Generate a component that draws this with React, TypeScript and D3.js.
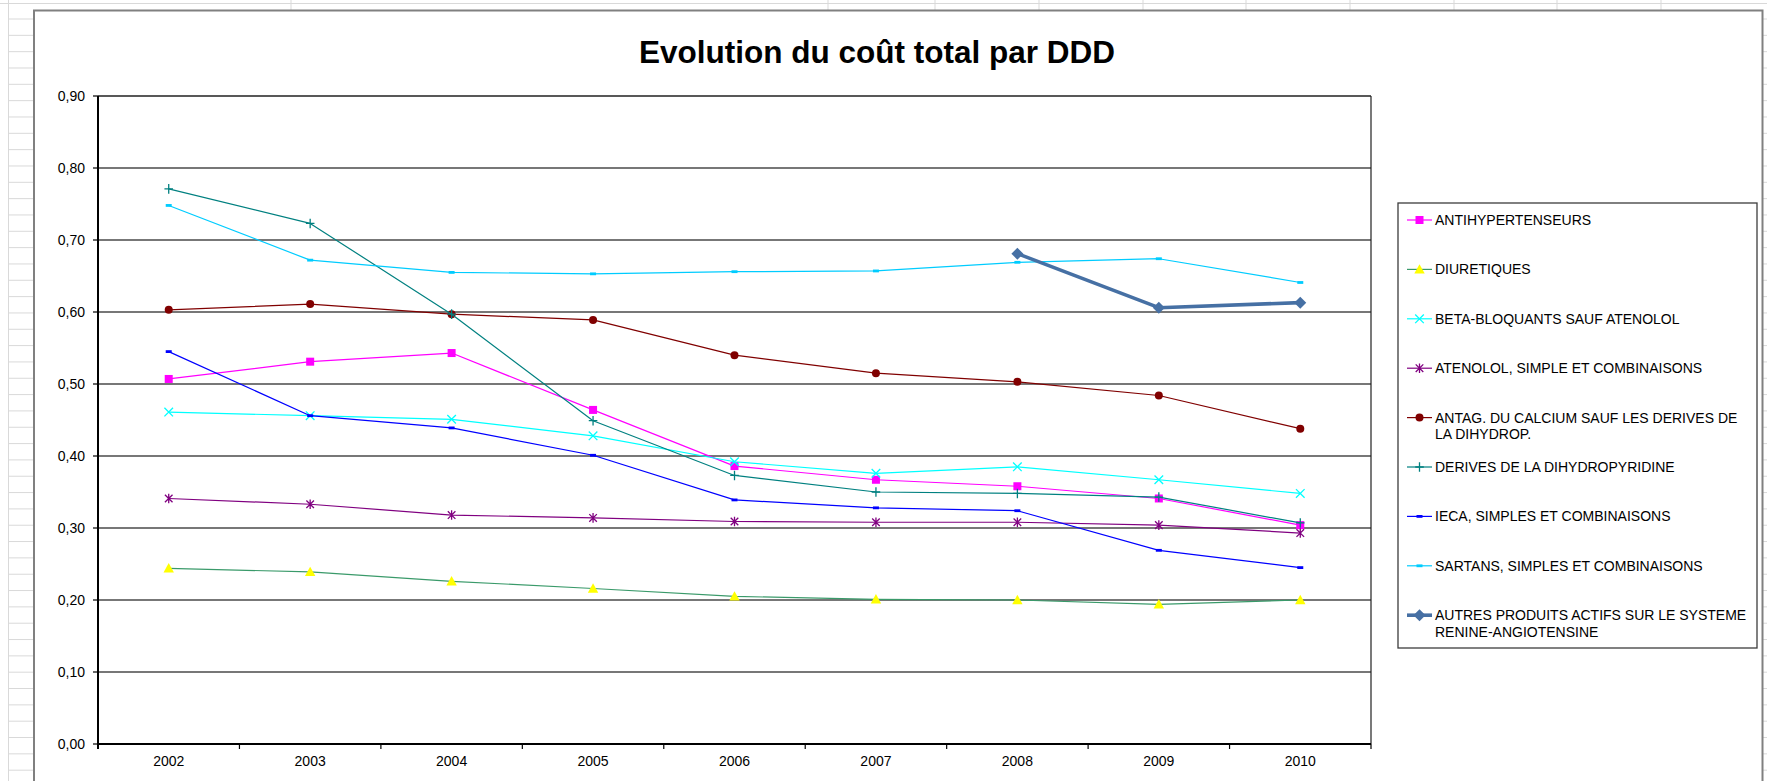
import React from "react";
import * as d3 from "d3";

// categories / ticks
const YEARS = ["2002", "2003", "2004", "2005", "2006", "2007", "2008", "2009", "2010"];
const Y_TICKS = [0, 0.1, 0.2, 0.3, 0.4, 0.5, 0.6, 0.7, 0.8, 0.9];
const TITLE = "Evolution du coût total par DDD";

// series values
const ANTIHYPERTENSEURS = [0.507, 0.531, 0.543, 0.464, 0.386, 0.367, 0.358, 0.341, 0.304];
const DIURETIQUES = [0.244, 0.239, 0.226, 0.216, 0.205, 0.201, 0.2, 0.194, 0.2];
const BETA_BLOQUANTS = [0.461, 0.456, 0.451, 0.428, 0.392, 0.376, 0.385, 0.367, 0.348];
const ATENOLOL = [0.341, 0.333, 0.318, 0.314, 0.309, 0.308, 0.308, 0.304, 0.293];
const ANTAG_CALCIUM = [0.603, 0.611, 0.597, 0.589, 0.54, 0.515, 0.503, 0.484, 0.438];
const DIHYDROPYRIDINE = [0.771, 0.723, 0.597, 0.449, 0.373, 0.35, 0.348, 0.343, 0.307];
const IECA = [0.545, 0.456, 0.439, 0.401, 0.339, 0.328, 0.324, 0.269, 0.245];
const SARTANS = [0.748, 0.672, 0.655, 0.653, 0.656, 0.657, 0.669, 0.674, 0.641];
const AUTRES = [null, null, null, null, null, null, 0.681, 0.606, 0.613];

const SERIES_LABELS = [
  ["ANTIHYPERTENSEURS"],
  ["DIURETIQUES"],
  ["BETA-BLOQUANTS SAUF ATENOLOL"],
  ["ATENOLOL, SIMPLE ET COMBINAISONS"],
  ["ANTAG. DU CALCIUM SAUF LES DERIVES DE", "LA DIHYDROP."],
  ["DERIVES DE LA DIHYDROPYRIDINE"],
  ["IECA, SIMPLES ET COMBINAISONS"],
  ["SARTANS, SIMPLES ET COMBINAISONS"],
  ["AUTRES PRODUITS ACTIFS SUR LE SYSTEME", "RENINE-ANGIOTENSINE"],
];
const SERIES_VALUES = [
  ANTIHYPERTENSEURS, DIURETIQUES, BETA_BLOQUANTS, ATENOLOL, ANTAG_CALCIUM,
  DIHYDROPYRIDINE, IECA, SARTANS, AUTRES,
];

// look of each series
const STYLES = [
  { line: "#FF00FF", fill: "#FF00FF", marker: "square", w: 1.2 },
  { line: "#3A9A6A", fill: "#FFFF00", marker: "triangle", w: 1.2 },
  { line: "#00FFFF", fill: "#00FFFF", marker: "x", w: 1.2 },
  { line: "#800080", fill: "#800080", marker: "star", w: 1.2 },
  { line: "#800000", fill: "#800000", marker: "circle", w: 1.2 },
  { line: "#008080", fill: "#008080", marker: "plus", w: 1.2 },
  { line: "#0000FF", fill: "#0000FF", marker: "dash", w: 1.2 },
  { line: "#00CCFF", fill: "#00CCFF", marker: "dash", w: 1.2 },
  { line: "#4670A4", fill: "#4670A4", marker: "diamond", w: 3.6 },
];

const W = 1767;
const H = 781;
const plot = { left: 98, right: 1371, top: 96, bottom: 744 };
const FONT = "'Liberation Sans', Arial, sans-serif";

const Marker = ({ type, x, y, c }) => {
  switch (type) {
    case "square":
      return <rect x={x - 4} y={y - 4} width={8} height={8} fill={c} />;
    case "triangle":
      return <path d={`M${x},${y - 5.2}L${x + 5.2},${y + 4.2}L${x - 5.2},${y + 4.2}Z`} fill={c} />;
    case "circle":
      return <circle cx={x} cy={y} r={4} fill={c} />;
    case "x":
      return (
        <path d={`M${x - 4.3},${y - 4.3}L${x + 4.3},${y + 4.3}M${x - 4.3},${y + 4.3}L${x + 4.3},${y - 4.3}`}
          stroke={c} strokeWidth={1.3} fill="none" />
      );
    case "star":
      return (
        <path d={`M${x - 3.8},${y - 3.8}L${x + 3.8},${y + 3.8}M${x - 3.8},${y + 3.8}L${x + 3.8},${y - 3.8}M${x},${y - 4.8}L${x},${y + 4.8}`}
          stroke={c} strokeWidth={1.3} fill="none" />
      );
    case "plus":
      return (
        <path d={`M${x - 4.3},${y}L${x + 4.3},${y}M${x},${y - 4.8}L${x},${y + 4.8}`}
          stroke={c} strokeWidth={1.3} fill="none" />
      );
    case "dash":
      return <rect x={x - 3} y={y - 1.4} width={6} height={2.8} fill={c} />;
    case "diamond":
      return <path d={`M${x},${y - 6}L${x + 6},${y}L${x},${y + 6}L${x - 6},${y}Z`} fill={c} />;
    default:
      return null;
  }
};

export default function App() {
  const x = d3.scaleBand().domain(YEARS).range([plot.left, plot.right]).padding(0);
  const y = d3.scaleLinear().domain([0, 0.9]).range([plot.bottom, plot.top]);
  const cx = (yr) => x(yr) + x.bandwidth() / 2;
  const fmt = (v) => d3.format(".2f")(v).replace(".", ",");

  const line = d3
    .line()
    .defined((d) => d[1] != null)
    .x((d) => cx(d[0]))
    .y((d) => y(d[1]));

  // spreadsheet cells behind the chart
  const rows = d3.range(19, H, 16.33);
  const cols = [291, 828, 935, 1039, 1143, 1246, 1350, 1454, 1557, 1661];

  const legendX = 1398, legendY = 203, legendW = 359, legendH = 445;
  const legendRow = 49.4;

  return (
    <div style={{ position: "absolute", left: 0, top: 0 }}>
      <svg width={W} height={H} style={{ display: "block", fontFamily: FONT }}>
        <rect width={W} height={H} fill="#ffffff" />
        {/* grid of the sheet */}
        <g stroke="#d9d9d9" strokeWidth={1}>
          <line x1={0} x2={W} y1={3.5} y2={3.5} />
          <line x1={8.5} x2={8.5} y1={0} y2={H} />
          {rows.map((r, i) => (
            <g key={i}>
              <line x1={8.5} x2={33} y1={r} y2={r} />
              <line x1={1763} x2={W} y1={r} y2={r} />
            </g>
          ))}
          {cols.map((c) => (
            <line key={c} x1={c} x2={c} y1={0} y2={10} />
          ))}
        </g>
        {/* chart frame */}
        <rect x={34} y={10.5} width={1728.5} height={H} fill="#ffffff" stroke="#808080" strokeWidth={2} />

        <text x={877} y={63} textAnchor="middle" fontSize={31.5} fontWeight="bold" fill="#000">
          {TITLE}
        </text>

        {/* gridlines */}
        {Y_TICKS.map((t) => (
          <line key={t} x1={plot.left} x2={plot.right} y1={y(t)} y2={y(t)}
            stroke={t === 0.9 ? "#202020" : "#4a4a4a"} strokeWidth={1.4} />
        ))}
        <line x1={plot.right} x2={plot.right} y1={plot.top} y2={plot.bottom} stroke="#202020" strokeWidth={1.2} />

        {/* y axis */}
        <line x1={plot.left} x2={plot.left} y1={plot.top} y2={plot.bottom + 5} stroke="#000" strokeWidth={2} />
        {Y_TICKS.map((t) => (
          <g key={t}>
            <line x1={plot.left - 5} x2={plot.left} y1={y(t)} y2={y(t)} stroke="#000" strokeWidth={1.2} />
            <text x={85} y={y(t) + 5} textAnchor="end" fontSize={14} fill="#000">
              {fmt(t)}
            </text>
          </g>
        ))}

        {/* x axis */}
        <line x1={plot.left} x2={plot.right} y1={plot.bottom} y2={plot.bottom} stroke="#000" strokeWidth={2} />
        {YEARS.map((yr) => (
          <g key={yr}>
            <line x1={x(yr) + x.bandwidth()} x2={x(yr) + x.bandwidth()} y1={plot.bottom} y2={plot.bottom + 5}
              stroke="#000" strokeWidth={1.2} />
            <text x={cx(yr)} y={766} textAnchor="middle" fontSize={14} fill="#000">
              {yr}
            </text>
          </g>
        ))}

        {/* series */}
        {SERIES_VALUES.map((vals, i) => {
          const st = STYLES[i];
          const pts = YEARS.map((yr, j) => [yr, vals[j]]);
          return (
            <g key={i}>
              <path d={line(pts)} fill="none" stroke={st.line} strokeWidth={st.w} strokeLinejoin="round" />
              {pts
                .filter((p) => p[1] != null)
                .map((p) => (
                  <Marker key={p[0]} type={st.marker} x={cx(p[0])} y={y(p[1])} c={st.fill} />
                ))}
            </g>
          );
        })}

        {/* legend */}
        <rect x={legendX} y={legendY} width={legendW} height={legendH} fill="#fff" stroke="#3c3c3c" strokeWidth={1.3} />
        {SERIES_LABELS.map((lines, i) => {
          const st = STYLES[i];
          const ly = 220 + i * legendRow;
          return (
            <g key={i}>
              <line x1={1407} x2={1432} y1={ly} y2={ly} stroke={st.line} strokeWidth={st.w} />
              <Marker type={st.marker} x={1419.5} y={ly} c={st.fill} />
              {lines.map((t, k) => (
                <text key={k} x={1435} y={ly + 5 + k * 16.7} fontSize={14} fill="#000">
                  {t}
                </text>
              ))}
            </g>
          );
        })}
      </svg>
    </div>
  );
}
